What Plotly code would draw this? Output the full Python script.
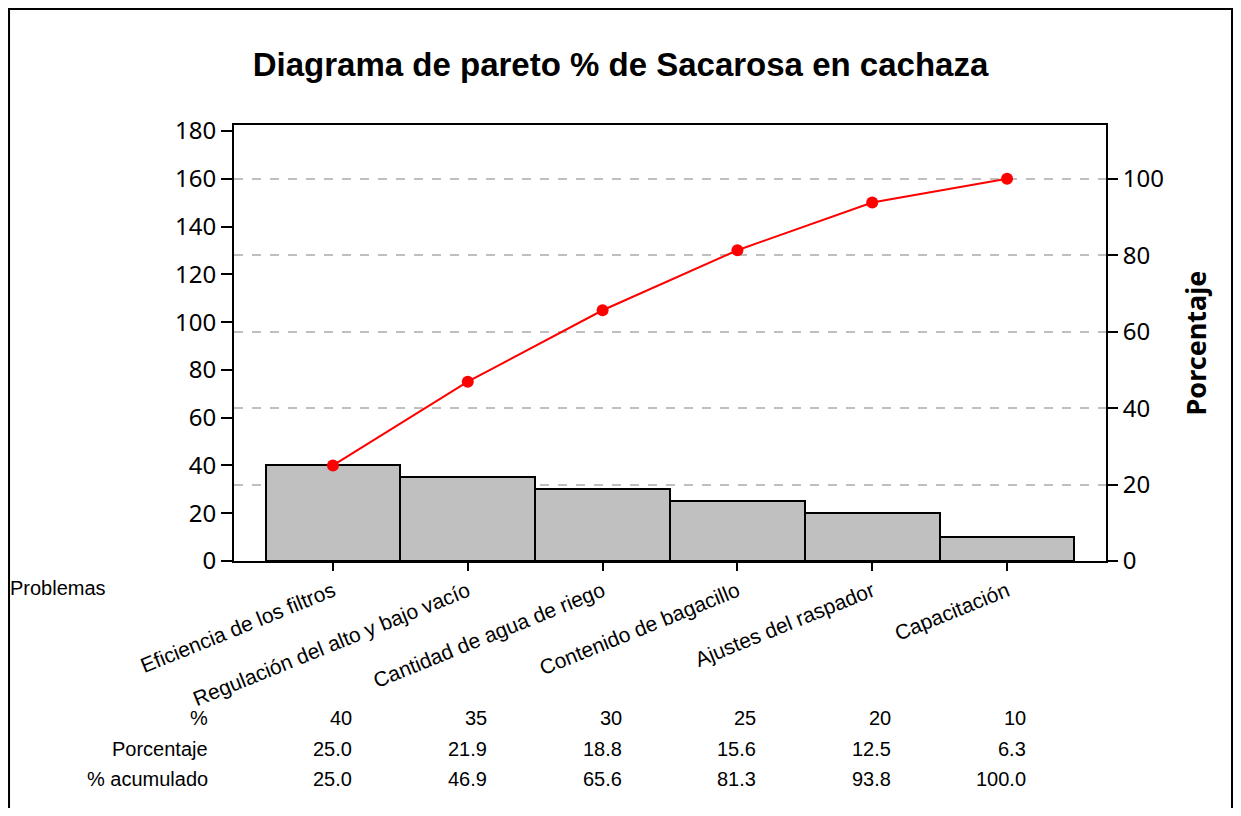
import plotly.graph_objects as go

problemas = ["Eficiencia de los filtros", "Regulación del alto y bajo vacío",
             "Cantidad de agua de riego", "Contenido de bagacillo",
             "Ajustes del raspador", "Capacitación"]
conteo = [40, 35, 30, 25, 20, 10]
porcentaje = ["25.0", "21.9", "18.8", "15.6", "12.5", "6.3"]
acumulado = [25.0, 46.9, 65.6, 81.3, 93.8, 100.0]
acumulado_txt = ["25.0", "46.9", "65.6", "81.3", "93.8", "100.0"]
filas = ["%", "Porcentaje", "% acumulado"]

total = sum(conteo)
ymax = 182.5
x = list(range(len(problemas)))

fig = go.Figure()
fig.add_trace(go.Bar(
    x=x, y=conteo, width=1.0,
    marker=dict(color="#c0c0c0", line=dict(color="black", width=2)),
    showlegend=False))
fig.add_trace(go.Scatter(
    x=x, y=acumulado, yaxis="y2", mode="lines+markers",
    line=dict(color="#ff0000", width=2),
    marker=dict(color="#ff0000", size=12),
    showlegend=False))

narrow = "Liberation Sans Narrow, Liberation Sans, Arial"
tick_font = dict(family="Noto Sans, Open Sans", size=24, color="black")

annotations = []
# tabla inferior
rows = [[str(v) for v in conteo], porcentaje, acumulado_txt]
row_y = [-0.360, -0.431, -0.500]
for name, vals, yy in zip(filas, rows, row_y):
    annotations.append(dict(x=-0.0275, xref="paper", y=yy, yref="paper", text=name,
                            showarrow=False, xanchor="right", yanchor="middle",
                            font=dict(family=narrow, size=20, color="black")))
    for i, v in enumerate(vals):
        annotations.append(dict(x=i, xref="x", y=yy, yref="paper", text=v,
                                showarrow=False, xanchor="right", yanchor="middle",
                                xshift=21, font=dict(family=narrow, size=20, color="black")))
annotations.append(dict(x=-0.259, xref="paper", y=-0.062, yref="paper", text="Problemas",
                        showarrow=False, xanchor="left", yanchor="middle",
                        font=dict(family=narrow, size=20, color="black")))

fig.update_layout(
    width=1225, height=800,
    margin=dict(l=226, r=127, t=117, b=247),
    paper_bgcolor="white", plot_bgcolor="white",
    bargap=0,
    title=dict(text="<b>Diagrama de pareto % de Sacarosa en cachaza</b>",
               x=0.5, xref="container", y=0.929, yanchor="middle",
               font=dict(family=narrow, size=33, color="black")),
    xaxis=dict(range=[-0.734, 5.734], tickvals=x, ticktext=problemas,
               tickangle=-22, ticks="outside", ticklen=8, tickwidth=2,
               tickcolor="black", showline=True, linecolor="black", linewidth=2,
               mirror=True, showgrid=False, zeroline=False,
               tickfont=dict(family=narrow, size=21, color="black")),
    yaxis=dict(range=[0, ymax], tickvals=list(range(0, 181, 20)),
               ticks="outside", ticklen=11, tickwidth=2, tickcolor="black",
               showline=True, linecolor="black", linewidth=2, mirror=True,
               showgrid=False, zeroline=False, tickfont=tick_font),
    yaxis2=dict(range=[0, ymax * 100 / total], overlaying="y", side="right",
                tickvals=[0, 20, 40, 60, 80, 100],
                ticks="outside", ticklen=11, tickwidth=2, tickcolor="black",
                showline=False, showgrid=True, gridcolor="#bfbfbf", gridwidth=1.5,
                griddash="dash", zeroline=False, tickfont=tick_font,
                title=dict(text="<b>Porcentaje</b>", standoff=24,
                           font=dict(family="Noto Sans, Open Sans", size=27, color="black"))),
    annotations=annotations,
    shapes=[dict(type="rect", xref="paper", yref="paper",
                 x0=-0.258, x1=1.1445, y0=-0.62, y1=1.266,
                 line=dict(color="black", width=2), layer="below")],
)

fig.write_html("out.html")
